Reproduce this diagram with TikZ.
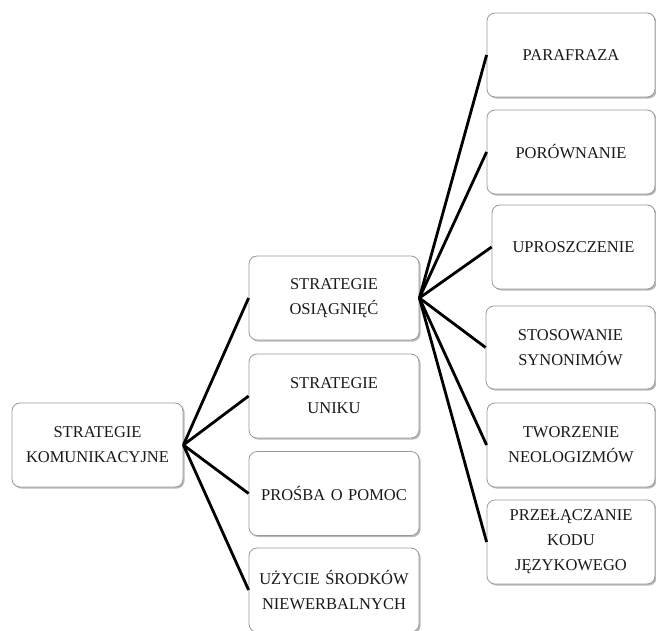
\documentclass[tikz,border=0pt]{standalone}
\usepackage{fontspec}
\setmainfont{Liberation Serif}
\usetikzlibrary{shadows}
\begin{document}
\begin{tikzpicture}[x=1pt,y=-1pt,
  box/.style={draw=black!40, line width=0.8pt, fill=white, rounded corners=8pt,
    drop shadow={shadow xshift=1.6pt, shadow yshift=-1.6pt, opacity=0.45, fill=black!60},
    align=center, inner sep=0pt, text=black!90, text width=158pt,
    font=\fontsize{16.5}{25}\selectfont},
  conn/.style={line width=2.8pt, black}]
\useasboundingbox (0,0) rectangle (656,631);
% root
\node[box, minimum width=171pt, minimum height=84pt] (root) at (97.5,445) {STRATEGIE\\KOMUNIKACYJNE};
% middle column
\node[box, minimum width=170pt, minimum height=84pt] (m1) at (334,298) {STRATEGIE\\OSIĄGNIĘĆ};
\node[box, minimum width=170pt, minimum height=84pt] (m2) at (334,396) {STRATEGIE\\UNIKU};
\node[box, minimum width=170pt, minimum height=84pt] (m3) at (334,493.5) {PROŚBA O POMOC};
\node[box, minimum width=170pt, minimum height=84pt] (m4) at (334,590) {UŻYCIE ŚRODKÓW\\NIEWERBALNYCH};
% right column
\node[box, minimum width=168pt, minimum height=84pt] (r1) at (571,55) {PARAFRAZA};
\node[box, minimum width=168pt, minimum height=84pt] (r2) at (571,152) {PORÓWNANIE};
\node[box, minimum width=163pt, minimum height=84pt] (r3) at (573.5,247) {UPROSZCZENIE};
\node[box, minimum width=169pt, minimum height=83pt] (r4) at (570.5,347.5) {STOSOWANIE\\SYNONIMÓW};
\node[box, minimum width=168pt, minimum height=84pt] (r5) at (571,445) {TWORZENIE\\NEOLOGIZMÓW};
\node[box, minimum width=168pt, minimum height=84pt] (r6) at (571,542) {PRZEŁĄCZANIE\\KODU\\JĘZYKOWEGO};
% connectors
\foreach \m in {m1,m2,m3,m4} \draw[conn] (root.east) -- (\m.west);
\foreach \r in {r1,r2,r3,r4,r5,r6} \draw[conn] (m1.east) -- (\r.west);
\end{tikzpicture}
\end{document}
